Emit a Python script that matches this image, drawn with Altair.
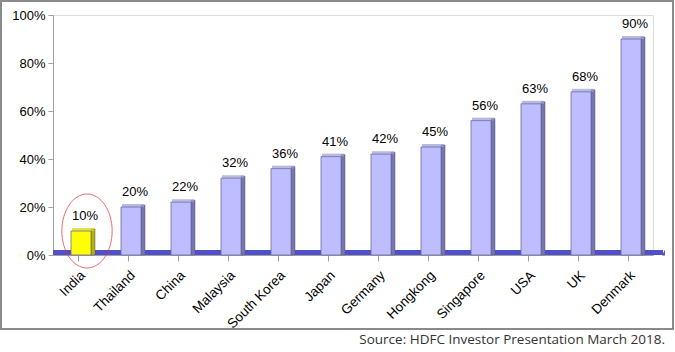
import altair as alt
import pandas as pd

countries = ["India", "Thailand", "China", "Malaysia", "South Korea", "Japan",
             "Germany", "Hongkong", "Singapore", "USA", "UK", "Denmark"]
values = [10, 20, 22, 32, 36, 41, 42, 45, 56, 63, 68, 90]
y_ticks = [0, 20, 40, 60, 80, 100]
highlight = "India"
source_text = "Source: HDFC Investor Presentation March 2018."

df = pd.DataFrame({"country": countries, "value": values})
df["label"] = df["value"].astype(str) + "%"
df["hl"] = df["country"] == highlight

W, H = 600, 240

xenc = alt.X("country:N", sort=countries, title=None,
             scale=alt.Scale(paddingInner=0, paddingOuter=0),
             axis=alt.Axis(labelAngle=-45, labelFont="Liberation Sans", labelFontSize=13.5,
                           labelColor="#000000", domainColor="#a0a0a0", tickColor="#a0a0a0",
                           tickSize=6, labelPadding=7, labelAlign="right", labelBaseline="top"))
yscale = alt.Scale(domain=[0, 100], nice=False)
yenc = alt.Y("value:Q", scale=yscale, title=None,
             axis=alt.Axis(values=y_ticks, labelExpr="datum.value + '%'", grid=False,
                           labelFont="Liberation Sans", labelFontSize=13, labelColor="#000000",
                           domainColor="#a0a0a0", tickColor="#a0a0a0", tickSize=5, labelPadding=3))

base = alt.Chart(df)
one = base.transform_filter(alt.datum.country == highlight)

floor = one.mark_rect(color="#5050c8").encode(
    x=alt.value(0), x2=alt.value(610), y=alt.value(H - 5), y2=alt.value(H)
)
floor_edge = one.mark_point(
    shape="M -1 1 L 0 -1 L 0 1 Z", size=36, filled=True, color="#5050c8", opacity=1
).encode(x=alt.value(612), y=alt.value(H - 2.5))

side = base.mark_bar(width=4, xOffset=15, yOffset=-2, stroke="#55558a", strokeWidth=0.5).encode(
    x=xenc, y=yenc, y2=alt.datum(0),
    color=alt.condition(alt.datum.hl, alt.value("#b5b500"), alt.value("#7676ae")),
)
top = base.mark_tick(orient="horizontal", size=22, thickness=3, xOffset=5, yOffset=-1.5).encode(
    x=xenc, y=yenc,
    color=alt.condition(alt.datum.hl, alt.value("#d8d800"), alt.value("#9c9cd4")),
)
front = base.mark_bar(width=20, xOffset=3, stroke="#6a6aa0", strokeWidth=0.8).encode(
    x=xenc, y=yenc, y2=alt.datum(0),
    color=alt.condition(alt.datum.hl, alt.value("#ffff00"), alt.value("#bdbdff")),
)
labels = base.mark_text(font="Liberation Sans", fontSize=13, color="#000000",
                        baseline="bottom", xOffset=7, dy=-8).encode(
    x=xenc, y=yenc, text="label:N"
)
ellipse = one.mark_point(
    shape="M -0.68 0 A 0.68 1 0 1 0 0.68 0 A 0.68 1 0 1 0 -0.68 0 Z",
    size=5476, filled=False, color="#e03030", strokeWidth=1, xOffset=9
).encode(x=xenc, y=yenc)

frame = one.mark_rect(fill=None, stroke="#8a8a8a", strokeWidth=2).encode(
    x=alt.value(-52), x2=alt.value(620), y=alt.value(-14), y2=alt.value(314)
)

src = one.mark_text(font="Open Sans", fontSize=13.5, color="#333333", align="right",
                    baseline="middle", text=source_text).encode(
    x=alt.value(612), y=alt.value(325)
)

chart = alt.layer(frame, floor, floor_edge, side, top, front, labels, ellipse, src).properties(
    width=W, height=H,
    autosize=alt.AutoSizeParams(type="none"),
    padding={"left": 53, "top": 15, "right": 22, "bottom": 97},
).configure_view(stroke=None).configure(background="#ffffff")

chart.save("out.html", embed_options={"renderer": "svg", "actions": False})
